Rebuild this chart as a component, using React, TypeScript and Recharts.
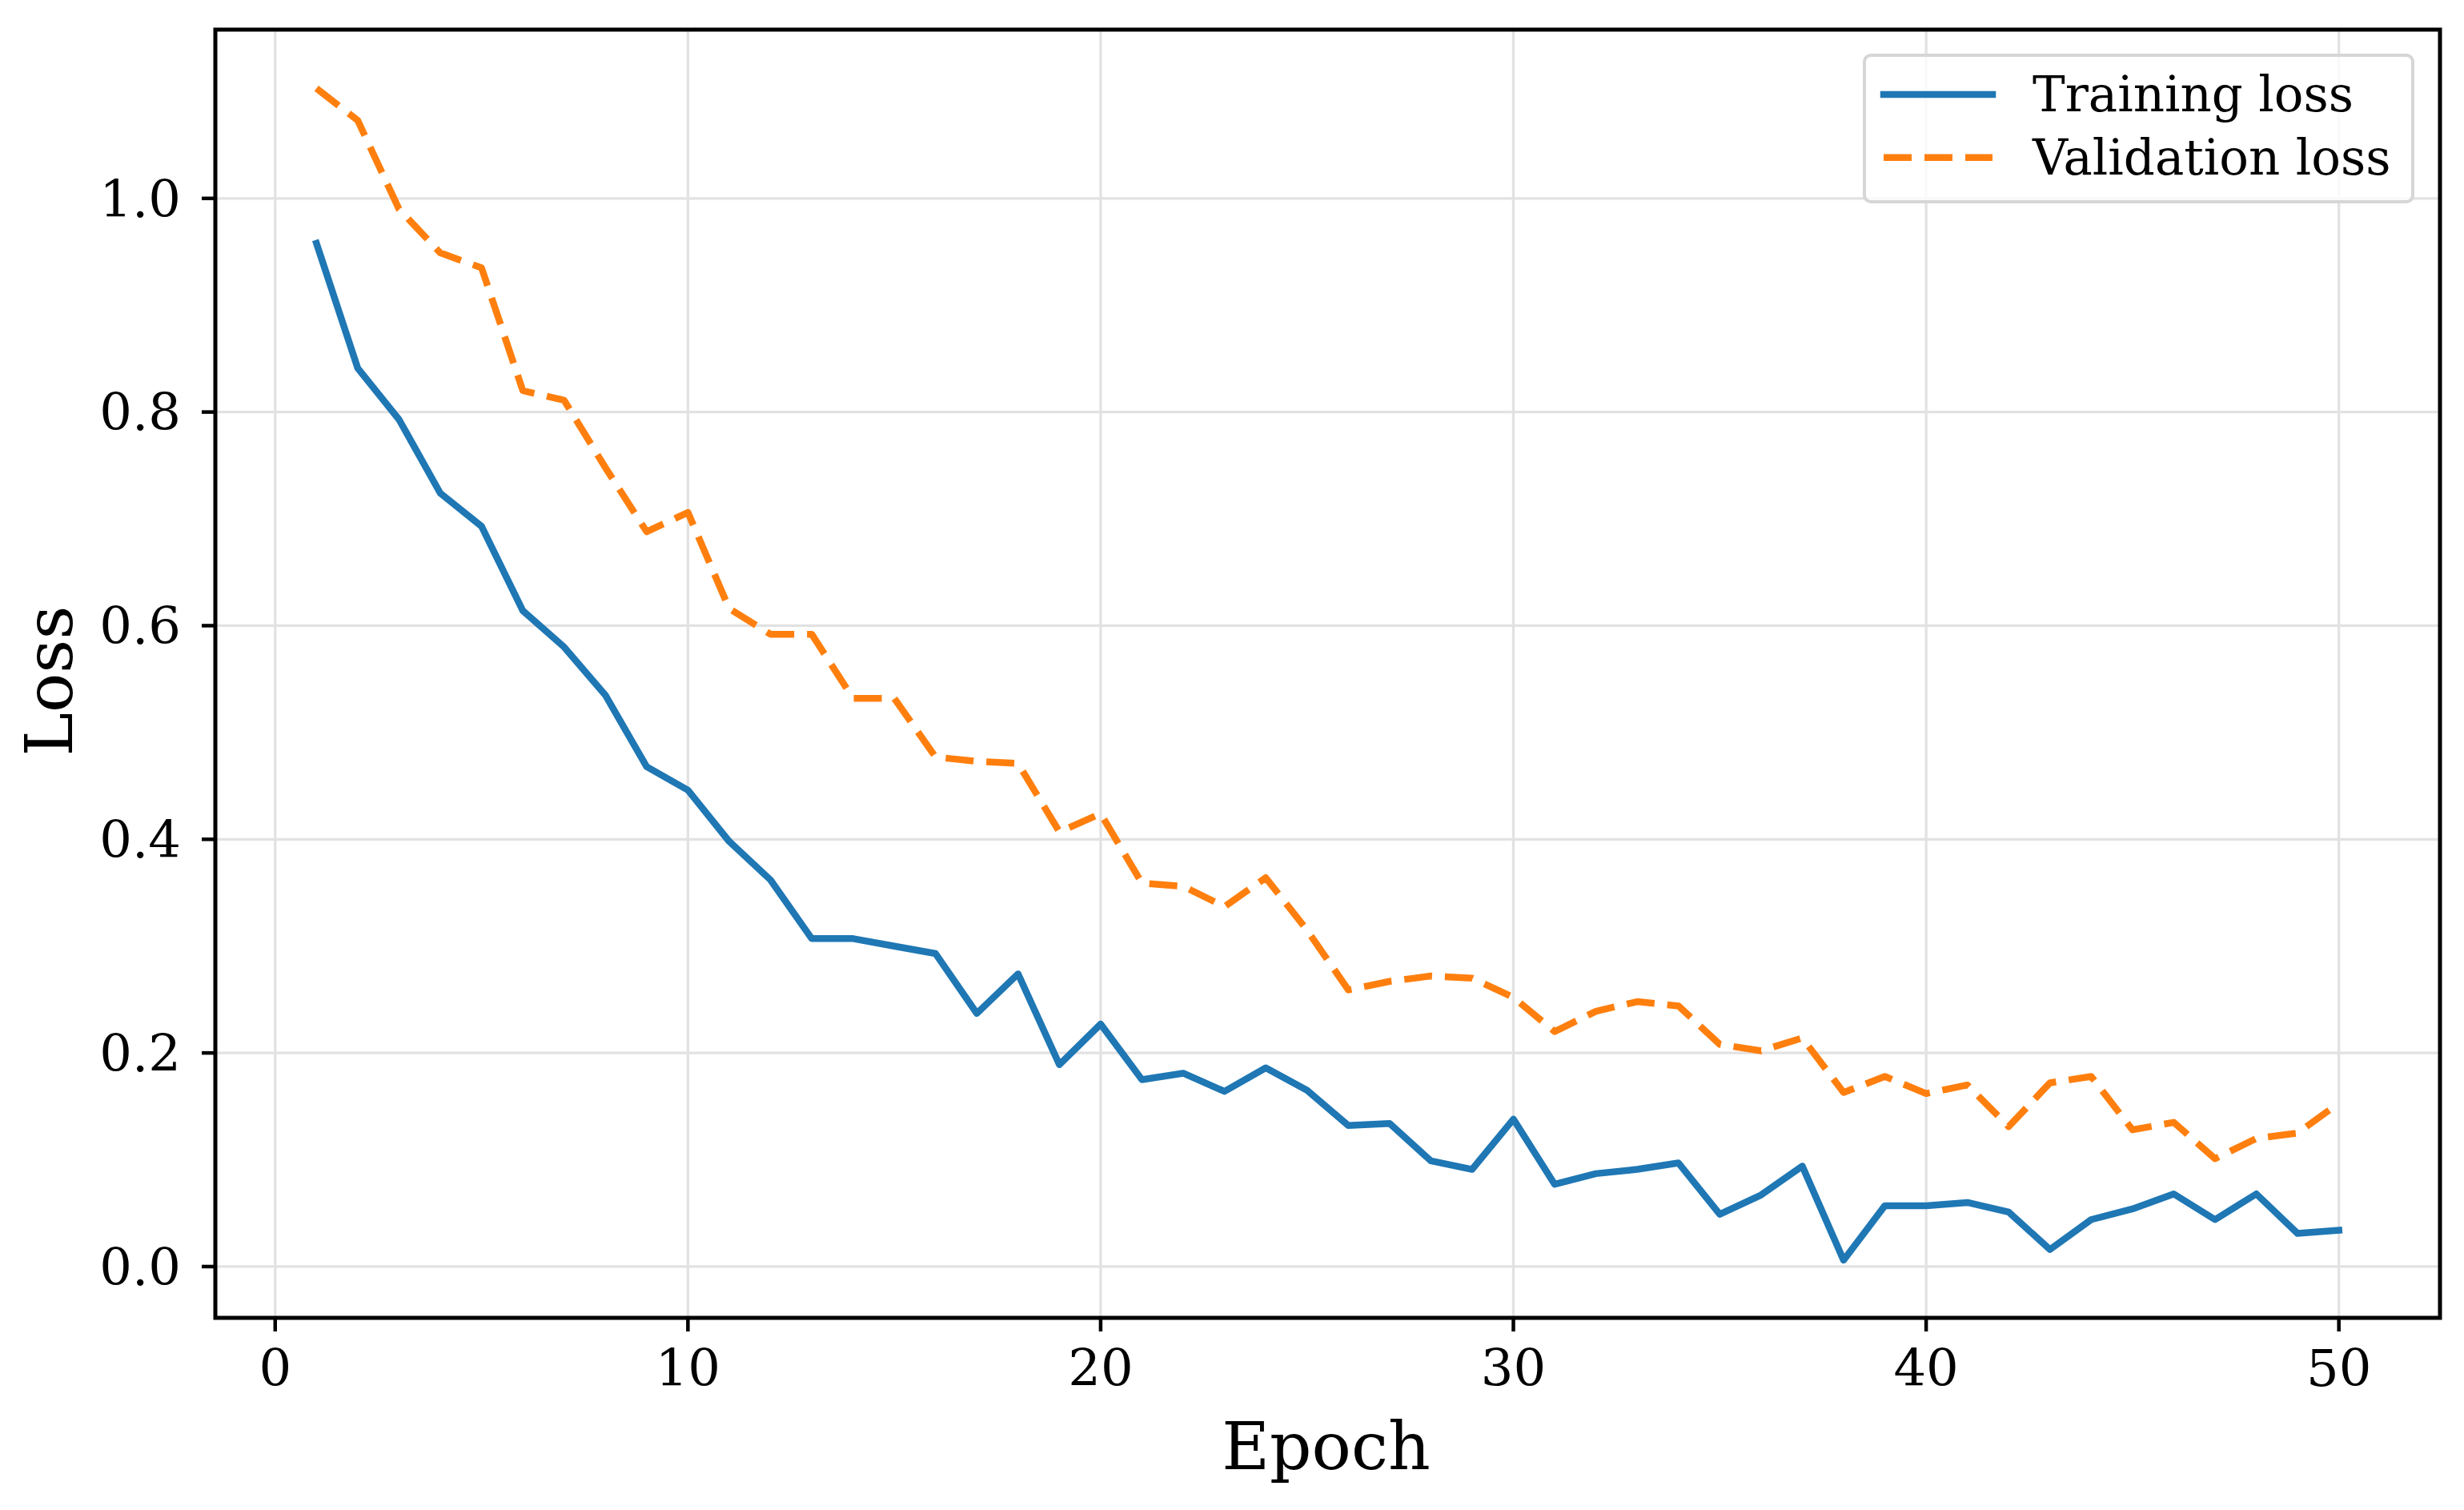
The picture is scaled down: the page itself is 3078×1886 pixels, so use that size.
import React from 'react';
import { LineChart, Line, XAxis, YAxis, CartesianGrid, Legend, ReferenceArea, Label } from 'recharts';

const epochs = [
  1, 2, 3, 4, 5, 6, 7, 8, 9, 10, 11, 12, 13, 14, 15, 16, 17, 18, 19, 20, 21, 22, 23, 24, 25,
  26, 27, 28, 29, 30, 31, 32, 33, 34, 35, 36, 37, 38, 39, 40, 41, 42, 43, 44, 45, 46, 47, 48, 49, 50,
];

const trainLoss = [
  0.958, 0.841, 0.793, 0.724, 0.693, 0.614, 0.58, 0.535, 0.468, 0.446,
  0.398, 0.362, 0.307, 0.307, 0.3, 0.293, 0.237, 0.274, 0.189, 0.227,
  0.175, 0.181, 0.164, 0.186, 0.165, 0.132, 0.134, 0.099, 0.091, 0.138,
  0.077, 0.087, 0.091, 0.097, 0.049, 0.067, 0.094, 0.006, 0.057, 0.057,
  0.06, 0.051, 0.016, 0.044, 0.054, 0.068, 0.044, 0.068, 0.031, 0.034,
];

const valLoss = [
  1.103, 1.073, 0.99, 0.949, 0.935, 0.82, 0.811, 0.748, 0.688, 0.706,
  0.616, 0.592, 0.592, 0.532, 0.532, 0.477, 0.473, 0.471, 0.407, 0.424,
  0.359, 0.356, 0.337, 0.364, 0.315, 0.259, 0.267, 0.272, 0.27, 0.252,
  0.22, 0.239, 0.248, 0.244, 0.208, 0.202, 0.214, 0.163, 0.178, 0.162,
  0.17, 0.131, 0.172, 0.178, 0.128, 0.135, 0.101, 0.12, 0.125, 0.153,
];

const xTicks = [0, 10, 20, 30, 40, 50];
const yTicks = [0, 0.2, 0.4, 0.6, 0.8, 1.0];

// matplotlib-style 5% margins around the data
const xDomain: [number, number] = [-1.45, 52.45];
const yDomain: [number, number] = [-0.048, 1.158];

const data = epochs.map((epoch, i) => ({ epoch, train: trainLoss[i], val: valLoss[i] }));

const FONT = 'DejaVu Serif';
const dashFor: Record<string, string | undefined> = { train: undefined, val: '35 16' };

// Framed legend box, like the matplotlib default
const LegendBox = ({ payload }: any) => {
  const items = payload || [];
  return (
    <div
      style={{
        position: 'relative',
        width: 689,
        height: 187,
        boxSizing: 'border-box',
        border: '4px solid #d6d6d6',
        borderRadius: 10,
        background: 'rgba(255,255,255,0.8)',
      }}
    >
      <svg width={689} height={187} style={{ position: 'absolute', left: -4, top: -4 }}>
        {items.map((entry: any, i: number) => {
          const y = 51 + i * 78.7;
          const dash = dashFor[entry.dataKey];
          return (
            <g key={`legend-${i}`}>
              <line
                x1={26}
                x2={162}
                y1={y}
                y2={y}
                stroke={entry.color}
                strokeWidth={8.5}
                strokeDasharray={dash}
                strokeLinecap={dash ? 'butt' : 'square'}
              />
              <text x={212} y={y + 21} fontSize={61} fontFamily={FONT} fill="#000">
                {entry.value}
              </text>
            </g>
          );
        })}
      </svg>
    </div>
  );
};

const XLabel = ({ viewBox }: any) => (
  <text
    x={viewBox.x + viewBox.width / 2 - 2}
    y={viewBox.y + 189}
    textAnchor="middle"
    fontSize={82}
    fontFamily={FONT}
    fill="#000"
  >
    Epoch
  </text>
);

const YLabel = ({ viewBox }: any) => {
  const x = viewBox.x + 90;
  const y = viewBox.y + viewBox.height / 2 + 9;
  return (
    <text
      x={x}
      y={y}
      transform={`rotate(-90 ${x} ${y})`}
      textAnchor="middle"
      fontSize={82}
      fontFamily={FONT}
      fill="#000"
    >
      Loss
    </text>
  );
};

export default function App() {
  return (
    <div style={{ position: 'absolute', left: 0, top: 0, width: 3078, height: 1886, background: '#fff' }}>
      <LineChart width={3078} height={1886} data={data} margin={{ top: 37, right: 30, bottom: 0, left: 0 }}>
        <CartesianGrid stroke="#e2e2e2" strokeWidth={3.3} />
        <XAxis
          dataKey="epoch"
          type="number"
          domain={xDomain}
          ticks={xTicks}
          allowDataOverflow
          height={240}
          axisLine={false}
          tickLine={{ stroke: '#000', strokeWidth: 4.5 }}
          tickSize={17}
          tickMargin={23}
          tick={{ fontSize: 64, fontFamily: FONT, fill: '#000' }}
        >
          <Label content={<XLabel />} />
        </XAxis>
        <YAxis
          type="number"
          domain={yDomain}
          ticks={yTicks}
          allowDataOverflow
          width={269}
          axisLine={false}
          tickLine={{ stroke: '#000', strokeWidth: 4.5 }}
          tickSize={17}
          tickMargin={26}
          tickFormatter={(v: number) => v.toFixed(1)}
          tick={{ fontSize: 64, fontFamily: FONT, fill: '#000' }}
        >
          <Label content={<YLabel />} />
        </YAxis>
        <Line
          type="linear"
          dataKey="train"
          name="Training loss"
          stroke="#1f77b4"
          strokeWidth={8.5}
          strokeLinejoin="round"
          strokeLinecap="square"
          dot={false}
          activeDot={false}
          isAnimationActive={false}
        />
        <Line
          type="linear"
          dataKey="val"
          name="Validation loss"
          stroke="#ff7f0e"
          strokeWidth={8.5}
          strokeDasharray="35 16"
          strokeLinejoin="round"
          dot={false}
          activeDot={false}
          isAnimationActive={false}
        />
        <ReferenceArea
          x1={xDomain[0]}
          x2={xDomain[1]}
          y1={yDomain[0]}
          y2={yDomain[1]}
          fill="none"
          fillOpacity={0}
          stroke="#000"
          strokeWidth={5}
          ifOverflow="visible"
        />
        <Legend
          layout="vertical"
          align="center"
          verticalAlign="middle"
          content={<LegendBox />}
          wrapperStyle={{ left: 2327, top: 67, width: 689, height: 187 }}
        />
      </LineChart>
    </div>
  );
}
